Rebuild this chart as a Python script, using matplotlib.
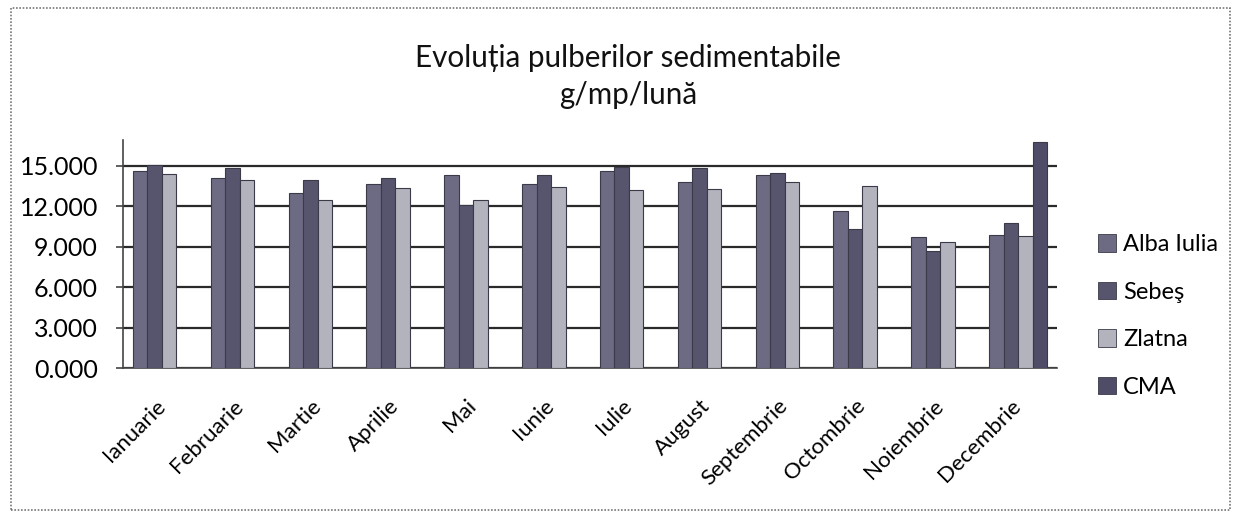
import matplotlib
matplotlib.use("Agg")
import matplotlib.pyplot as plt
import matplotlib.transforms as mtransforms
from matplotlib.patches import Rectangle, Patch
import numpy as np

plt.rcParams['font.family'] = ['Lato', 'DejaVu Sans']

months = ["Ianuarie", "Februarie", "Martie", "Aprilie", "Mai", "Iunie", "Iulie",
          "August", "Septembrie", "Octombrie", "Noiembrie", "Decembrie"]
alba_iulia = [14.57, 14.05, 13.00, 13.66, 14.33, 13.66, 14.57, 13.78, 14.28, 11.65, 9.72, 9.84]
sebes = [15.07, 14.80, 13.90, 14.08, 12.05, 14.28, 14.90, 14.82, 14.45, 10.34, 8.70, 10.76]
zlatna = [14.38, 13.90, 12.45, 13.34, 12.47, 13.41, 13.19, 13.26, 13.78, 13.46, 9.35, 9.79]
cma = [0, 0, 0, 0, 0, 0, 0, 0, 0, 0, 0, 16.73]
series_names = ["Alba Iulia", "Sebeş", "Zlatna", "CMA"]
yticks = [0, 3, 6, 9, 12, 15]

colors = ["#6d6a84", "#57546e", "#b3b3bd", "#4e4c66"]

fig = plt.figure(figsize=(12.37, 5.13), dpi=100)
ax = fig.add_axes([123 / 1237, 1 - 368 / 513, (1057 - 123) / 1237, (368 - 140) / 513])

x = np.arange(len(months))
w = 0.186
data = [alba_iulia, sebes, zlatna, cma]
for i, (vals, c) in enumerate(zip(data, colors)):
    ax.bar(x + (i - 1.5) * w, vals, width=w, color=c, edgecolor="#3a3a48",
           linewidth=0.8, zorder=3)

ax.set_xlim(-0.5, len(months) - 0.5)
ax.set_ylim(0, 16.9)
ax.set_yticks(yticks)
ax.set_yticklabels([f"{v:.3f}" for v in yticks], fontsize=18)
ax.yaxis.grid(True, color="#2a2a2a", linewidth=1.6, zorder=0)
ax.set_axisbelow(True)
ax.tick_params(axis='y', length=5, width=1.2, color="#444", pad=13)
ax.set_xticks(x)
ax.set_xticklabels(months, rotation=45, ha='right', rotation_mode='anchor', fontsize=16)
ax.tick_params(axis='x', length=0, pad=20)
offset = mtransforms.ScaledTranslation(-7 / 100, 0, fig.dpi_scale_trans)
for lbl in ax.get_xticklabels():
    lbl.set_transform(lbl.get_transform() + offset)
for s in ["top", "right"]:
    ax.spines[s].set_visible(False)
ax.spines["left"].set_color("#444")
ax.spines["bottom"].set_color("#444")
ax.spines["left"].set_linewidth(1.2)
ax.spines["bottom"].set_linewidth(1.2)

fig.text(0.508, 1 - 67 / 513, "Evoluția pulberilor sedimentabile",
         ha='center', va='baseline', fontsize=21.3, color="#111")
fig.text(0.508, 1 - 104 / 513, "g/mp/lună",
         ha='center', va='baseline', fontsize=21.3, color="#111")

handles = [Patch(facecolor=c, edgecolor="#3a3a48", linewidth=0.6) for c in colors]
fig.legend(handles, series_names, loc='center left', bbox_to_anchor=(1077 / 1237, 1 - 316 / 513),
           frameon=False, fontsize=17, handlelength=0.75, handleheight=0.75,
           handletextpad=0.3, labelspacing=1.12)

fig.patches.append(Rectangle((11 / 1237, 3 / 513), 1219 / 1237, 502 / 513,
                             transform=fig.transFigure, fill=False,
                             edgecolor="#777", linestyle=(0, (1, 1)), linewidth=1.2))

fig.savefig("out.png", dpi=100)
